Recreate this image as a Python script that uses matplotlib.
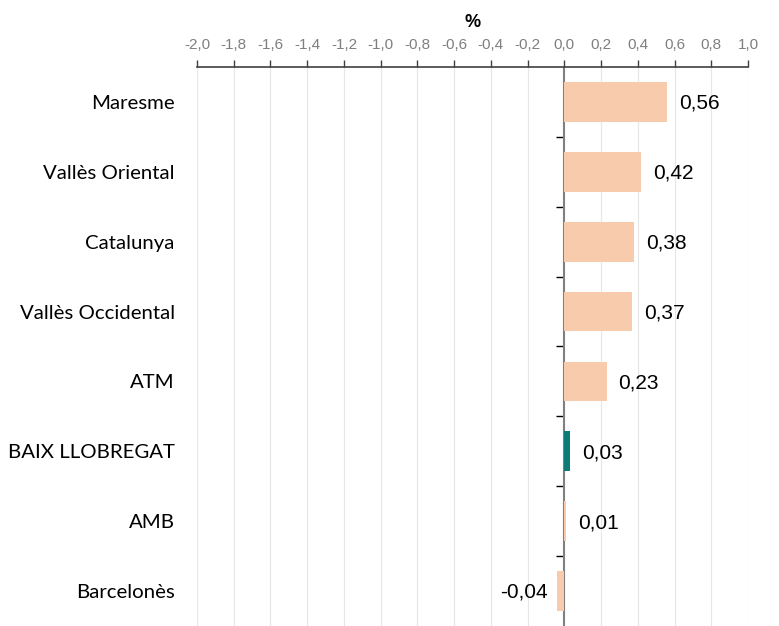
import numpy as np
import matplotlib.pyplot as plt

# data
regions = ["Maresme", "Vallès Oriental", "Catalunya", "Vallès Occidental",
           "ATM", "BAIX LLOBREGAT", "AMB", "Barcelonès"]
values = [0.56, 0.42, 0.38, 0.37, 0.23, 0.03, 0.01, -0.04]
highlight = "BAIX LLOBREGAT"
xticks = np.arange(-2.0, 1.01, 0.2)

peach = "#F8CBAD"
teal = "#0B7C78"

fig = plt.figure(figsize=(7.79, 6.26), dpi=100)
ax = fig.add_axes([0.2529, 0.0, 0.7073, 0.893])

y = np.arange(len(regions))
colors = [teal if r == highlight else peach for r in regions]
ax.barh(y, values, height=0.57, color=colors, zorder=3)

ax.set_xlim(-2.0, 1.0)
ax.set_ylim(len(regions) - 0.5, -0.5)

# top axis
ax.xaxis.tick_top()
ax.xaxis.set_label_position("top")
ax.set_xticks(xticks)
ax.set_xticklabels([f"{t:.1f}".replace(".", ",").replace("-0,0", "0,0") for t in xticks],
                   fontsize=11, color="#7f7f7f", family="Liberation Sans")
ax.tick_params(axis="x", direction="out", length=5, width=1, color="#404040", pad=6)
ax.set_xlabel("%", fontsize=13, fontweight="bold", family="Liberation Sans", labelpad=8)

for s in ["left", "right", "bottom"]:
    ax.spines[s].set_visible(False)
ax.spines["top"].set_color("#404040")
ax.spines["top"].set_linewidth(1.2)

ax.set_yticks(y)
ax.set_yticklabels(regions, fontsize=14.7, family="Lato")
ax.tick_params(axis="y", length=0, pad=16)

ax.grid(axis="x", color="#e6e6e6", linestyle="-", linewidth=0.8, zorder=0)

# zero line with category ticks
ax.axvline(0, color="#808080", linewidth=1.5, zorder=2)
sec = ax.secondary_yaxis(2.0 / 3.0)
sec.set_yticks(np.arange(0.5, len(regions) - 0.5, 1.0))
sec.set_yticklabels([])
sec.tick_params(axis="y", direction="in", length=6, width=1, color="black")
sec.spines["left"].set_visible(False)
sec.spines["right"].set_visible(False)

# value labels
for yi, v in zip(y, values):
    lbl = f"{v:.2f}".replace(".", ",")
    if v >= 0:
        ax.annotate(lbl, (v, yi), xytext=(8.5, -1), textcoords="offset points",
                    ha="left", va="center", fontsize=15, family="Liberation Sans")
    else:
        ax.annotate(lbl, (v, yi), xytext=(-7, -1), textcoords="offset points",
                    ha="right", va="center", fontsize=15, family="Liberation Sans")

fig.savefig("out.png", dpi=100)
